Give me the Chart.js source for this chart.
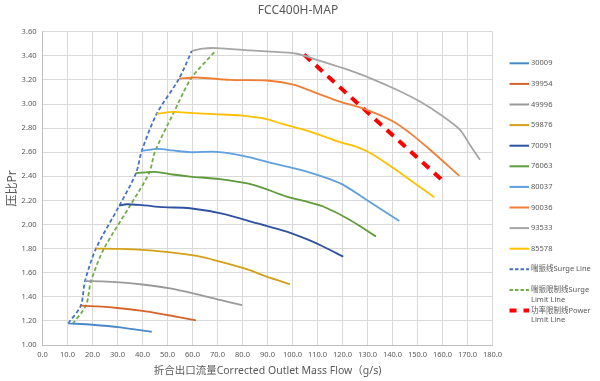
<!DOCTYPE html>
<html><head><meta charset="utf-8">
<script src="https://cdn.jsdelivr.net/npm/chart.js@4"></script>
<style>html,body{margin:0;padding:0;background:#fff}</style>
</head><body>
<canvas id="c" width="600" height="381"></canvas>
<script>
// ---- data: [flow g/s, pressure ratio] ----
const s30009 = [[10.3,1.18],[20,1.168],[31,1.147],[43.7,1.11]];
const s39954 = [[15.3,1.326],[22,1.32],[31,1.305],[40,1.283],[48.3,1.255],[55,1.23],[61.4,1.205]];
const s49996 = [[17,1.53],[24,1.528],[31,1.52],[40,1.502],[51,1.47],[60.3,1.429],[71,1.374],[79.9,1.33]];
const s59876 = [[21.4,1.80],[31,1.797],[40,1.79],[48.3,1.775],[61.7,1.739],[71,1.692],[81.7,1.629],[89.7,1.567],[99,1.504]];
const s70091 = [[30.7,2.155],[33.7,2.168],[40,2.16],[48.3,2.144],[59,2.135],[72.3,2.088],[85.7,2.011],[97.7,1.941],[105.7,1.878],[112,1.82],[120.3,1.733]];
const s76063 = [[37.4,2.426],[45,2.437],[52,2.415],[59,2.398],[71,2.376],[84.3,2.329],[97.7,2.232],[107,2.182],[112.3,2.149],[123,2.038],[133.4,1.90]];
const s80037 = [[39.7,2.611],[46.3,2.628],[52,2.615],[59,2.60],[69.7,2.603],[80.3,2.57],[91,2.514],[100.3,2.468],[107,2.431],[113.7,2.385],[120.3,2.329],[129.7,2.204],[142.7,2.03]];
const s90036 = [[54.6,3.21],[61.7,3.22],[75,3.20],[89.7,3.195],[100.3,3.16],[109.7,3.09],[119,3.02],[129.7,2.952],[140.3,2.855],[147,2.758],[155,2.62],[166.7,2.404]];
const s93533 = [[59.7,3.44],[64,3.46],[69.7,3.464],[83,3.445],[89.7,3.436],[101.7,3.417],[109.7,3.367],[120.3,3.297],[131,3.215],[141.7,3.118],[151,3.02],[160.3,2.896],[167,2.786],[171,2.66],[175,2.537]];
const s85578 = [[45.7,2.919],[52.3,2.935],[60,2.925],[68.3,2.916],[79,2.905],[88.3,2.88],[96.3,2.833],[107,2.77],[119,2.684],[127,2.634],[132.3,2.578],[140.3,2.468],[147,2.37],[156.7,2.227]];
const surgeLine = [[10.3,1.18],[15.3,1.326],[17,1.53],[21.4,1.80],[30.7,2.155],[37.4,2.426],[39.7,2.611],[45.7,2.919],[54.6,3.21],[59.7,3.44]];
const surgeLimitLine = [[12.1,1.175],[17.4,1.33],[19.4,1.53],[24.6,1.80],[35,2.155],[42.7,2.43],[45,2.605],[52.3,2.92],[59.4,3.21],[69,3.436]];
const powerLimitLine = [[104.6,3.41],[160.3,2.36]];

const seriesNames = ['30009','39954','49996','59876','70091','76063','80037','90036','93533','85578',
  '喘振线Surge Line','喘振限制线Surge\nLimit Line','功率限制线Power\nLimit Line'];
const seriesData = [s30009,s39954,s49996,s59876,s70091,s76063,s80037,s90036,s93533,s85578,surgeLine,surgeLimitLine,powerLimitLine];

const xMin = 0, xMax = 180, xStep = 10;
const yMin = 1, yMax = 3.6, yStep = 0.2;
const chartTitle = 'FCC400H-MAP';
const xTitle = '折合出口流量Corrected Outlet Mass Flow（g/s)';
const yTitle = '压比Pr';

// ---- styles ----
const colors = ['#4A89C8','#D5652A','#9A9A9A','#D4A017','#2F52A0','#5E9B3A','#5FA0DE','#F07F35','#A6A6A6','#FFC000','#4472C4','#70AD47','#FF0000'];
const FONT = '"Noto Sans","Noto Sans CJK SC",sans-serif';
const TXT = '#595959';

const datasets = seriesData.map((d,i)=>{
  const ds = {
    label: seriesNames[i],
    data: d.map(p=>({x:p[0],y:p[1]})),
    showLine:true, pointRadius:0, pointHoverRadius:0,
    borderColor: colors[i], backgroundColor: colors[i],
    borderWidth: 1.8, tension: 0.3, fill:false
  };
  if (i===10 || i===11){ ds.borderDash=[4,2.5]; ds.borderWidth=1.8; ds.legendDash=[3.5,2]; }
  if (i===12){ ds.borderDash=[9,7]; ds.borderWidth=4; ds.tension=0; ds.legendDash=[7,7]; }
  return ds;
});

const decor = {
  id:'decor',
  afterDraw(chart){
    const c = chart.ctx;
    c.save();
    c.fillStyle = TXT;
    c.font = '12px '+FONT;
    c.textAlign = 'center'; c.textBaseline = 'middle';
    c.fillText(chartTitle, 298, 11);
    c.textAlign = 'left';
    c.font = '7.5px '+FONT;
    chart.data.datasets.forEach((ds,i)=>{
      const y = 63.3 + 20.6*i;
      c.strokeStyle = ds.borderColor;
      c.lineWidth = (i===12) ? 4 : 2;
      c.setLineDash(ds.legendDash || []);
      c.beginPath(); c.moveTo(509.5,y); c.lineTo(529,y); c.stroke();
      c.setLineDash([]);
      ds.label.split('\n').forEach((t,j)=>c.fillText(t, 531, y + j*9.6));
    });
    c.restore();
  }
};

new Chart(document.getElementById('c').getContext('2d'), {
  type:'scatter',
  data:{datasets},
  plugins:[decor],
  options:{
    responsive:false, animation:false, devicePixelRatio:1,
    layout:{padding:{top:31.7,right:107.5,left:0,bottom:0}},
    plugins:{legend:{display:false}, title:{display:false}, tooltip:{enabled:false}},
    scales:{
      x:{type:'linear', min:xMin, max:xMax,
        afterFit(s){ s.height = 36; },
        afterBuildTicks(s){ const t=[]; for(let v=xMin; v<=xMax+1e-9; v+=xStep) t.push({value:Math.round(v*10)/10}); s.ticks=t; },
        ticks:{stepSize:xStep, padding:5, color:TXT, font:{size:7.5, family:FONT}, callback:v=>Number(v).toFixed(1), maxRotation:0, autoSkip:false},
        grid:{color:'#D9D9D9', drawTicks:false, lineWidth:1},
        border:{color:'#BFBFBF'},
        title:{display:true, text:xTitle, color:TXT, font:{size:10.5, family:FONT}, padding:{top:0,bottom:4}}
      },
      y:{type:'linear', min:yMin, max:yMax,
        afterFit(s){ s.width = 42.5; },
        afterBuildTicks(s){ const t=[]; for(let k=0; k<=Math.round((yMax-yMin)/yStep); k++) t.push({value:Math.round((yMin+k*yStep)*100)/100}); s.ticks=t; },
        ticks:{stepSize:yStep, padding:6, color:TXT, font:{size:7.5, family:FONT}, callback:v=>Number(v).toFixed(2), autoSkip:false},
        grid:{color:'#D9D9D9', drawTicks:false, lineWidth:1},
        border:{color:'#BFBFBF'},
        title:{display:true, text:yTitle, color:TXT, font:{size:12, family:FONT}, padding:{top:5,bottom:0}}
      }
    }
  }
});
</script>
</body></html>
